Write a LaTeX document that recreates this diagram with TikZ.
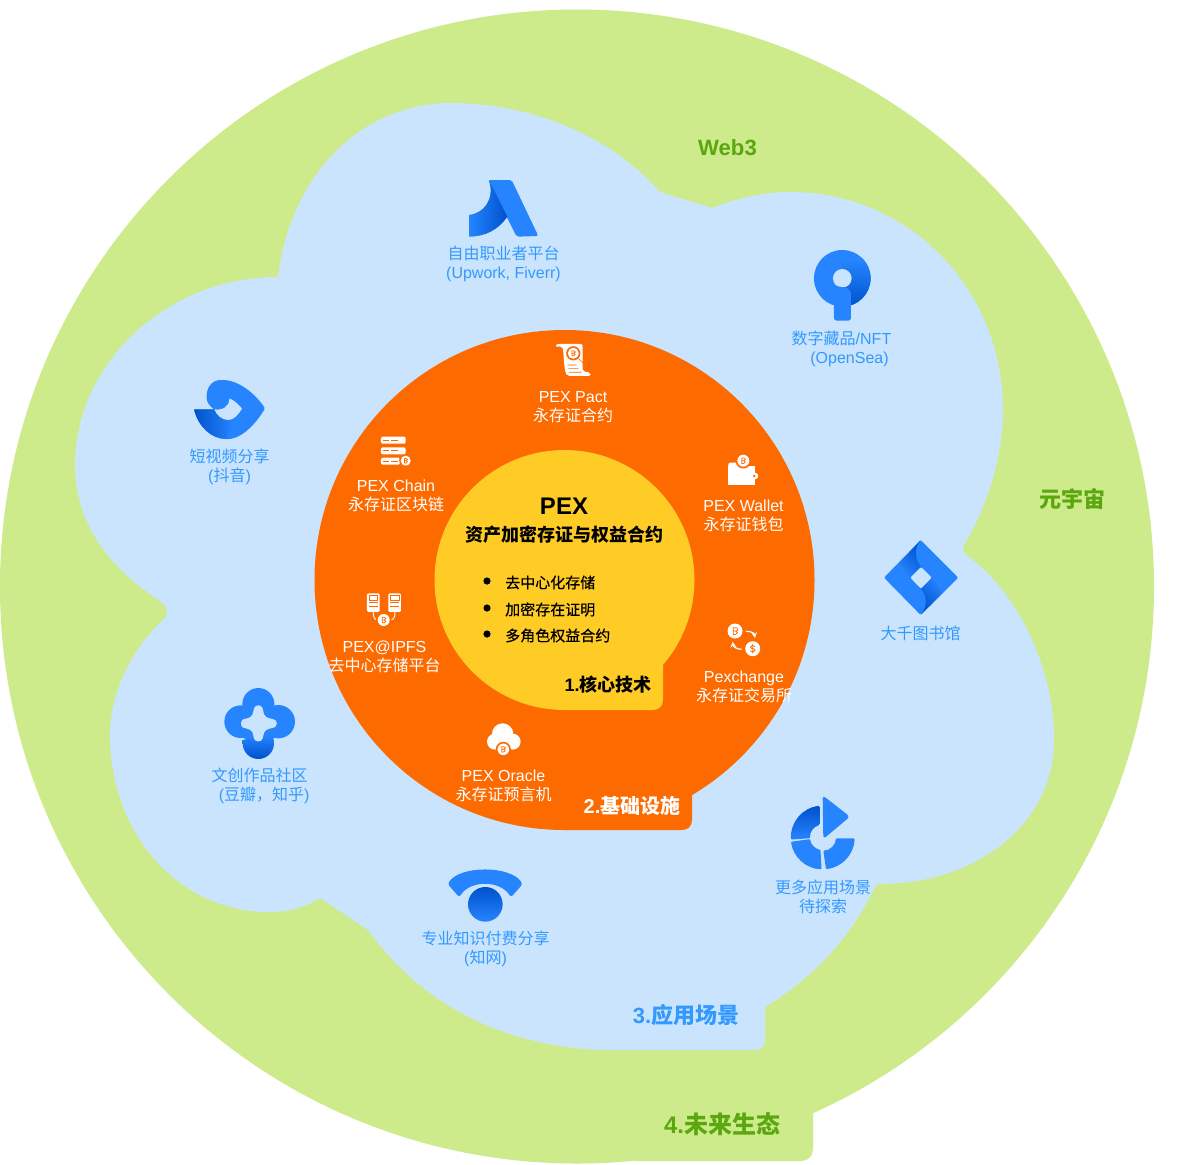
\documentclass[tikz,border=0pt]{standalone}
\usepackage{fontspec}
\setmainfont{Liberation Sans}
\newfontfamily\cjk{Noto Sans CJK SC}
\newfontfamily\cjkmed{Noto Sans CJK SC}[FakeBold=0.5]
\newcommand\zh[1]{{\cjk #1}}
\newcommand\zm[1]{{\cjkmed #1}}
\definecolor{pgreen}{HTML}{CDEB8B}
\definecolor{pbg}{HTML}{CAE4FD}
\definecolor{porange}{HTML}{FC6A00}
\definecolor{pyellow}{HTML}{FFCC26}
\definecolor{ptblue}{HTML}{3399FF}
\definecolor{ptgreen}{HTML}{5AA70F}
\definecolor{iblue}{HTML}{2684FF}
\definecolor{idark}{HTML}{0052CC}
\newcommand\btc[3]{\begin{scope}[shift={(#1,#2)},scale=#3]
 \fill[porange] (0,0) circle[radius=1.3];
 \fill[white] (0,0) circle[radius=1];
 \draw[porange,line width=.55pt] (-.25,-.45) -- (-.25,.45) -- (.08,.45) .. controls (.42,.45) and (.42,0) .. (.08,0) -- (-.25,0) (.08,0) .. controls (.48,0) and (.48,-.45) .. (.08,-.45) -- (-.25,-.45);
\end{scope}}
\newcommand\usd[3]{\begin{scope}[shift={(#1,#2)},scale=#3]
 \fill[white] (0,0) circle[radius=1];
 \draw[porange,line width=.6pt] (.32,-.3) .. controls (.1,-.5) and (-.35,-.45) .. (-.3,-.18) .. controls (-.25,.05) and (.35,-.05) .. (.32,.2) .. controls (.3,.48) and (-.15,.5) .. (-.34,.3) (0,-.62) -- (0,.62);
\end{scope}}
\tikzset{
 lab/.style={align=center,inner sep=0pt,font=\fontsize{12}{14.2}\selectfont},
 bluelab/.style={lab,text=ptblue},
 whitelab/.style={lab,text=white},
 bullettxt/.style={anchor=west,inner sep=0pt,font=\fontsize{11.25}{13}\selectfont,text=black},
 tagb/.style={inner sep=0pt,font=\bfseries},
}
\begin{document}
\begin{tikzpicture}[x=0.75pt,y=-0.75pt]
\useasboundingbox (0,0) rectangle (1203,1164);
\fill[white] (0,0) rectangle (1203,1164);
% layer 4
\fill[pgreen] (577,586.5) circle[radius=577];
\fill[pgreen] (577,900) -- (813,1113) -- (813,1149) .. controls (813,1156) and (808,1161) .. (801,1161) -- (635,1161) -- cycle;
% layer 3
\fill[pbg] (278,277) .. controls (292,165) and (370,103) .. (450,103)
 .. controls (530,103) and (610,135) .. (660,192) -- (712,208)
 .. controls (735,199) and (762,192) .. (790,192)
 .. controls (910,192) and (1003,290) .. (1003,410)
 .. controls (1003,460) and (985,510) .. (964,545)
 .. controls (962,549) and (963,553) .. (968,556)
 .. controls (1020,595) and (1054,670) .. (1054,740)
 .. controls (1054,825) and (975,884) .. (880,884) -- (876,885)
 .. controls (850,940) and (810,980) .. (765,1007) -- (765,1040)
 .. controls (765,1046) and (761,1050) .. (755,1050) -- (600,1050)
 .. controls (490,1045) and (415,995) .. (368,930) -- (320,898)
 .. controls (305,907) and (290,912) .. (270,912)
 .. controls (175,912) and (110,830) .. (110,735)
 .. controls (110,690) and (135,645) .. (163,620)
 .. controls (168,616) and (168,606) .. (160,601)
 .. controls (105,565) and (75,520) .. (75,465)
 .. controls (75,365) and (165,277) .. (278,277) -- cycle;
% layer 2
\fill[porange] (564.5,580) circle[radius=250];
\fill[porange] (565,700) -- (692,795) -- (692,820) .. controls (692,826) and (688,830) .. (682,830) -- (565,830) -- cycle;
% layer 1
\fill[pyellow] (564.5,580) circle[radius=130];
\fill[pyellow] (565,620) -- (663,665) -- (663,700) .. controls (663,706) and (659,710) .. (653,710) -- (565,710) -- cycle;

% ---- Upwork icon
\begin{scope}[shift={(440,170)},scale=.3333]
 \fill[iblue,rounded corners=1.5pt] (145,30) -- (215,30) -- (295,198) -- (230,200) -- cycle;
 \shade[left color=iblue,right color=idark] (87,135) .. controls (130,130) and (165,90) .. (147,30) -- (202,140) .. controls (175,180) and (135,200) .. (87,200) -- cycle;
\end{scope}
% ---- Sourcetree icon
\begin{scope}[shift={(440,170)},scale=.3333]
 \fill[iblue] (1207,325) circle[radius=85];
 \begin{scope}
  \clip (1207,325) circle[radius=85];
  \shade[top color=iblue,bottom color=idark] (1207,270) rectangle (1295,412);
 \end{scope}
 \fill[pbg] (1207,325) circle[radius=28];
 \fill[iblue,rounded corners=2pt] (1182,345) -- (1205,352) .. controls (1225,352) and (1233,365) .. (1233,380) -- (1233,452) -- (1182,452) -- cycle;
\end{scope}
% ---- Douyin icon
\begin{scope}[shift={(170,370)},scale=.3333]
 \fill[iblue,rounded corners=1pt] (72,118) .. controls (85,170) and (125,207) .. (170,207) .. controls (220,207) and (265,150) .. (285,115) .. controls (255,70) and (205,30) .. (155,30) .. controls (125,30) and (110,55) .. (110,80) .. controls (110,95) and (118,108) .. (133,118) -- cycle;
 \shade[left color=idark,right color=iblue] (72,118) -- (133,118) .. controls (145,140) and (165,150) .. (190,150) -- (170,207) .. controls (125,207) and (85,170) .. (72,118) -- cycle;
 \fill[pbg] (133,118) .. controls (155,122) and (180,110) .. (178,85) .. controls (195,92) and (205,103) .. (216,116) .. controls (205,135) and (190,150) .. (175,150) .. controls (155,150) and (140,135) .. (133,118) -- cycle;
\end{scope}
% ---- Community icon
\begin{scope}[shift={(190,680)},scale=.3333]
 \fill[iblue] (205,130) circle[radius=62];
 \fill[iblue] (205,72) circle[radius=48];
 \fill[iblue] (152,125) circle[radius=49];
 \fill[iblue] (265,125) circle[radius=50];
 \shade[top color=iblue,bottom color=idark] (158,180) -- (250,165) -- (252,190) arc[start angle=0,end angle=180,radius=47] -- cycle;
 \fill[pbg] (205,76) .. controls (215,76) and (219,84) .. (220,95) .. controls (222,108) and (230,114) .. (243,116) .. controls (255,118) and (261,123) .. (261,130) .. controls (261,138) and (255,143) .. (243,145) .. controls (230,147) and (222,153) .. (220,166) .. controls (219,178) and (215,184) .. (205,184) .. controls (195,184) and (191,178) .. (190,166) .. controls (188,153) and (180,147) .. (167,145) .. controls (155,143) and (153,138) .. (153,130) .. controls (153,123) and (155,118) .. (167,116) .. controls (180,114) and (188,108) .. (190,95) .. controls (191,84) and (195,76) .. (205,76) -- cycle;
\end{scope}
% ---- More icon
\begin{scope}[shift={(760,780)},scale=.3333]
 \fill[iblue,rounded corners=2.5pt] (188,46) -- (270,110) -- (190,177) -- cycle;
 \begin{scope}[shift={(188,172)}]
  \shade[top color=idark,bottom color=iblue,rounded corners=.7pt] (264:95) arc[start angle=264,end angle=176,radius=95] -- (176:38) arc[start angle=176,end angle=255,radius=38] -- cycle;
  \fill[iblue,rounded corners=.7pt] (172:96) arc[start angle=172,end angle=92,radius=96] -- (100:38) arc[start angle=100,end angle=172,radius=38] -- cycle;
  \fill[iblue,rounded corners=.7pt] (84:96) arc[start angle=84,end angle=2,radius=96] -- (4:40) arc[start angle=4,end angle=87,radius=40] -- cycle;
 \end{scope}
\end{scope}
% ---- Jira icon
\begin{scope}[shift={(870,530)},scale=.3333]
 \fill[iblue,rounded corners=1.5pt,even odd rule] (152,30) -- (265,143) -- (152,255) -- (42,143) -- cycle (153,110) -- (186,143) -- (153,177) -- (120,143) -- cycle;
 \shade[top color=idark,bottom color=iblue,shading angle=-45] (152,30) .. controls (130,55) and (135,90) .. (153,110) -- (120,143) -- (88,100) -- cycle;
 \shade[top color=iblue,bottom color=idark,shading angle=-45] (152,255) .. controls (174,230) and (170,195) .. (153,177) -- (186,143) -- (218,188) -- cycle;
\end{scope}
% ---- Statuspage icon
\begin{scope}[shift={(410,860)},scale=.3333]
 \fill[iblue,rounded corners=2pt] (113,72) .. controls (150,16) and (300,16) .. (338,72) -- (303,112) .. controls (270,60) and (180,60) .. (148,112) -- cycle;
 \shade[top color=idark,bottom color=iblue] (226,133) circle[radius=52];
\end{scope}
% ---- Pact scroll
\begin{scope}[shift={(440,170)},scale=.3333]
 \fill[white,rounded corners=1.5pt] (345,530) .. controls (350,522) and (358,522) .. (368,522) -- (425,522) -- (428,525) -- (428,604) -- (452,608) .. controls (452,614) and (448,618) .. (440,618) -- (382,618) .. controls (372,600) and (372,560) .. (368,530) -- cycle;
 \draw[porange,line width=.5pt] (383,585) -- (410,585) (385,596) -- (415,596) (387,607) -- (425,607) (415,565) -- (433,583);
\end{scope}
\btc{573.3}{353.3}{5.5}
% ---- Wallet
\begin{scope}[shift={(320,420)},scale=.3333]
 \fill[white,rounded corners=1pt] (1225,128) -- (1255,128) -- (1255,140) -- (1225,140) -- cycle;
 \fill[white] (1223,137) -- (1305,137) -- (1305,195) -- (1223,195) -- cycle;
 \fill[white] (1305,168) circle[radius=10];
 \fill[porange] (1303,168) circle[radius=4];
\end{scope}
\btc{743.3}{460.7}{6}
% ---- Exchange
\btc{735}{631}{7.5}
\usd{752.7}{648.7}{7.5}
\begin{scope}[shift={(320,420)},scale=.3333]
 \draw[white,line width=.9pt,-stealth] (1278,634) .. controls (1295,634) and (1303,640) .. (1305,654);
 \draw[white,line width=.9pt,-stealth] (1265,688) .. controls (1250,688) and (1240,680) .. (1238,665);
\end{scope}
% ---- Oracle cloud
\begin{scope}[shift={(320,420)},scale=.3333]
 \fill[white] (548,942) circle[radius=32];
 \fill[white] (525,965) circle[radius=24];
 \fill[white] (578,965) circle[radius=24];
 \fill[white] (525,945) rectangle (578,985);
\end{scope}
\btc{503.3}{749.3}{5.8}
% ---- Server
\begin{scope}[shift={(320,420)},scale=.3333]
 \foreach \ya/\xr in {50/257,82/257,113/240}{
  \fill[white,rounded corners=1pt] (183,\ya) rectangle (\xr,\ya+21);
  \draw[porange,line width=.45pt] (189,\ya+10) -- (208,\ya+10) (214,\ya+10) -- (235,\ya+10);
 }
\end{scope}
\btc{405.7}{460.7}{5}
% ---- IPFS
\begin{scope}[shift={(320,420)},scale=.3333]
 \foreach \xa in {141,205}{
  \fill[white,rounded corners=1pt] (\xa,520) rectangle (\xa+38,576);
  \draw[porange,line width=.45pt] (\xa+6,527) rectangle (\xa+32,540) (\xa+6,548) -- (\xa+32,548) (\xa+6,560) -- (\xa+32,560);
 }
 \draw[white,line width=.7pt] (160,576) .. controls (160,595) and (165,600) .. (175,600);
 \draw[white,line width=.7pt] (225,576) .. controls (225,595) and (220,600) .. (208,600);
\end{scope}
\btc{383.7}{620}{6}

% ---- labels
\node[bluelab] (l1) at (503.5,264.2) {\zh{自由职业者平台}\\(Upwork, Fiverr)};
\node[bluelab] (l2) at (841.5,348.5) {\zh{数字藏品}/NFT\\\hspace*{12pt}(OpenSea)};
\node[bluelab] (l3) at (229.5,466.7) {\zh{短视频分享}\\(\zh{抖音})};
\node[bluelab] (l4) at (259.5,786.2) {\zh{文创作品社区}\\\hspace*{7pt}(\zh{豆瓣，知乎})};
\node[bluelab] (l5) at (485.5,948.7) {\zh{专业知识付费分享}\\(\zh{知网})};
\node[bluelab] (l6) at (823,896.7) {\zh{更多应用场景}\\\zh{待探索}};
\node[bluelab] (l7) at (920.5,633) {\zh{大千图书馆}};
\node[whitelab] (o1) at (573,406.7) {PEX Pact\\\zh{永存证合约}};
\node[whitelab] (o2) at (743.5,515.7) {PEX Wallet\\\zh{永存证钱包}};
\node[whitelab] (o3) at (744,686.7) {Pexchange\\\zh{永存证交易所}};
\node[whitelab] (o4) at (503.5,785.7) {PEX Oracle\\\zh{永存证预言机}};
\node[whitelab] (o5) at (384.5,656.7) {PEX@IPFS\\\zh{去中心存储平台}};
\node[whitelab] (o6) at (396,495.7) {PEX Chain\\\zh{永存证区块链}};
% core
\node[inner sep=0pt,font=\bfseries\fontsize{18}{20}\selectfont] (pex) at (564,506) {PEX};
\node[inner sep=0pt,font=\bfseries\fontsize{13.5}{16}\selectfont] (sub) at (564,534.5) {\zh{资产加密存证与权益合约}};
\fill (487,581) circle[radius=3.6];
\fill (487,608) circle[radius=3.6];
\fill (487,634) circle[radius=3.6];
\node[bullettxt] (b1) at (505,582.5) {\zm{去中心化存储}};
\node[bullettxt] (b2) at (505,609.5) {\zm{加密存在证明}};
\node[bullettxt] (b3) at (505,635.5) {\zm{多角色权益合约}};
% tags
\node[tagb,text=black,font=\bfseries\fontsize{13.5}{16}\selectfont] (t1) at (608,685) {1.\zh{核心技术}};
\node[tagb,text=white,font=\bfseries\fontsize{15}{18}\selectfont] (t2) at (632,806) {2.\zh{基础设施}};
\node[tagb,text=ptblue,font=\bfseries\fontsize{16.5}{20}\selectfont] (t3) at (686,1015) {3.\zh{应用场景}};
\node[tagb,text=ptgreen,font=\bfseries\fontsize{18}{20}\selectfont] (t4) at (722,1124) {4.\zh{未来生态}};
\node[tagb,text=ptgreen,font=\bfseries\fontsize{16.6}{20}\selectfont] (w3) at (727.5,147.5) {Web3};
\node[tagb,text=ptgreen,font=\bfseries\fontsize{16.5}{20}\selectfont] (yy) at (1072,499) {\zh{元宇宙}};
\end{tikzpicture}
\end{document}
